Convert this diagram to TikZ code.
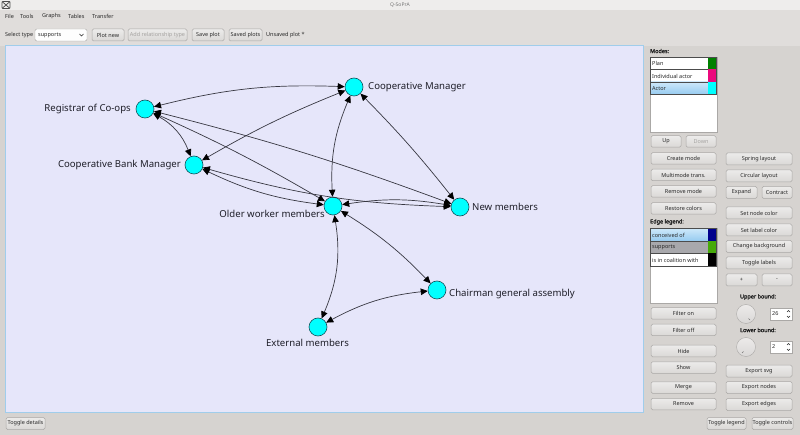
\documentclass[tikz,border=0pt]{standalone}
\usepackage{fontspec}
\setmainfont{Noto Sans}
\newfontfamily\gbfont{Noto Sans}[FakeBold=1.6]
\usetikzlibrary{arrows.meta}
\definecolor{winbg}{RGB}{214,211,208}
\definecolor{titlebg}{RGB}{238,237,236}
\definecolor{canvasbg}{RGB}{230,230,250}
\definecolor{canvasedge}{RGB}{160,205,235}
\definecolor{btnborder}{RGB}{170,168,166}
\definecolor{btntop}{RGB}{236,235,234}
\definecolor{btnbot}{RGB}{218,216,214}
\definecolor{guitext}{RGB}{40,40,40}
\definecolor{guidis}{RGB}{165,163,161}
\definecolor{edgecol}{RGB}{55,55,65}
\definecolor{nodeborder}{RGB}{20,80,90}
\definecolor{labelcol}{RGB}{30,30,40}
\definecolor{nodecyan}{RGB}{0,255,255}
\definecolor{selblue1}{RGB}{205,232,250}
\definecolor{selblue2}{RGB}{150,203,240}
\definecolor{selgray}{RGB}{168,168,172}
\definecolor{plangreen}{RGB}{0,128,0}
\definecolor{indpink}{RGB}{235,10,125}
\definecolor{navyc}{RGB}{0,0,140}
\definecolor{suppgreen}{RGB}{70,170,10}
\newcommand\guifont{\fontsize{5.5}{6.5}\selectfont}
\newcommand\gbtn[6]{\node[btn, minimum width=#4pt, minimum height=#5pt] (#1) at (#2,#3) {#6};}
\newcommand\gdbtn[6]{\node[btn, text=guidis, minimum width=#4pt, minimum height=#5pt] (#1) at (#2,#3) {#6};}
\begin{document}
\begin{tikzpicture}[x=1pt,y=-1pt,
  btn/.style={draw=btnborder, rounded corners=1.5pt, top color=btntop, bottom color=btnbot, font=\guifont, inner sep=0pt, text=guitext, line width=0.5pt},
  guitxt/.style={font=\guifont, text=guitext, inner sep=0pt},
  guibold/.style={font=\gbfont\guifont, text=guitext!80!black, inner sep=0pt},
  gnode/.style={circle, draw=nodeborder, fill=nodecyan, minimum size=18pt, inner sep=0pt, line width=0.6pt},
  glabel/.style={font=\fontsize{9.6}{11}\selectfont, text=labelcol, inner sep=0pt},
  edge/.style={draw=edgecol, line width=0.7pt, {Triangle[length=7pt,width=6.5pt,color=black]}-{Triangle[length=7pt,width=6.5pt,color=black]}},
  listrow/.style={draw=black!70, line width=0.4pt},
]
\useasboundingbox (0,0) rectangle (800,435);
% window
\fill[winbg] (0,0) rectangle (800,435);
\fill[titlebg] (0,0) rectangle (800,10);
\fill[winbg!60!titlebg] (0,10) rectangle (800,46);
% title bar
\draw[black!70, line width=0.7pt, rounded corners=1pt] (2,1.5) rectangle (10,8.5);
\draw[black!70, line width=0.7pt] (2,1.5) -- (10,8.5) (2,8.5) -- (10,1.5);
\node[font=\fontsize{5}{6}\selectfont, text=black!55, inner sep=0pt] (title) at (400,5) {Q-SoPrA};
% menu
\node[guitxt, anchor=west] (mfile) at (5,16) {File};
\node[guitxt, anchor=west] (mtools) at (20,16) {Tools};
\node[guitxt, anchor=west] (mgraphs) at (42,16) {Graphs};
\node[guitxt, anchor=west] (mtables) at (68,16) {Tables};
\node[guitxt, anchor=west] (mtransfer) at (92,16) {Transfer};
% toolbar
\node[guitxt, anchor=west] (seltype) at (5,35) {Select type};
\node[draw=btnborder, rounded corners=1.5pt, fill=white!95!btntop, minimum width=52pt, minimum height=12pt, inner sep=0pt] (combo) at (61,35) {};
\node[guitxt, anchor=west] (combotxt) at (38,35) {supports};
\draw[guitext, line width=0.5pt] (79.5,34) -- (81.5,36) -- (83.5,34);
\gbtn{plotnew}{108}{35}{32}{12}{Plot new}
\gdbtn{addrel}{157.5}{35}{59}{12}{Add relationship type}
\gbtn{saveplot}{208}{35}{32}{12}{Save plot}
\gbtn{savedplots}{245.5}{35}{33}{12}{Saved plots}
\node[guitxt, anchor=west] (unsaved) at (266,35) {Unsaved plot *};
% canvas
\draw[canvasedge, fill=canvasbg, line width=0.8pt] (5,45) rectangle (643,412);
% graph nodes
\node[gnode] (reg) at (145,109) {};
\node[gnode] (bm) at (194,165) {};
\node[gnode] (cm) at (354,87) {};
\node[gnode] (old) at (333,206) {};
\node[gnode] (new) at (460,207) {};
\node[gnode] (chair) at (437,290) {};
\node[gnode] (ext) at (318,327) {};
% edges
\draw[edge] (reg) to[bend left=8] (cm);
\draw[edge] (reg) to[bend left=20] (bm);
\draw[edge] (reg) to[bend left=3] (old);
\draw[edge] (reg) to[bend left=3] (new);
\draw[edge] (bm) to[bend left=4] (cm);
\draw[edge] (bm) to[bend right=9] (old);
\draw[edge] (bm) to[bend right=7] (new);
\draw[edge] (cm) to[bend right=13] (old);
\draw[edge] (cm) to[bend left=3] (new);
\draw[edge] (old) to[bend left=9] (new);
\draw[edge] (old) to[bend left=7] (chair);
\draw[edge] (old) to[bend left=16] (ext);
\draw[edge] (ext) to[bend left=11] (chair);
% labels
\node[glabel, anchor=east] (lreg) at (131,109) {Registrar of Co-ops};
\node[glabel, anchor=east] (lbm) at (181,165) {Cooperative Bank Manager};
\node[glabel, anchor=west] (lcm) at (368,87) {Cooperative Manager};
\node[glabel, anchor=west] (lnew) at (472,207) {New members};
\node[glabel, anchor=east] (lold) at (325,214) {Older worker members};
\node[glabel, anchor=west] (lchair) at (449,294) {Chairman general assembly};
\node[glabel] (lext) at (307.5,343) {External members};
% right panel: modes
\node[guibold, anchor=west] (modes) at (650,51) {Modes:};
\draw[draw=btnborder, fill=white] (650,57) rectangle (717,132);
\draw[listrow, fill=white] (650.5,57.5) rectangle (708,69.5);
\fill[plangreen] (708,57.5) rectangle (716.5,69.5);
\draw[listrow, top color=white, bottom color=white] (650.5,69.5) rectangle (708,82);
\fill[indpink] (708,69.5) rectangle (716.5,82);
\draw[listrow, top color=selblue1, bottom color=selblue2] (650.5,82) rectangle (708,94.5);
\fill[nodecyan] (708,82) rectangle (716.5,94.5);
\draw[black!70, line width=0.4pt] (650.5,57.5) rectangle (716.5,94.5);
\node[guitxt, anchor=west] (mplan) at (652,63.5) {Plan};
\node[guitxt, anchor=west] (mind) at (652,76) {Individual actor};
\node[guitxt, anchor=west] (mactor) at (652,88.5) {Actor};
\gbtn{up}{666}{141.5}{30}{11.5}{Up}
\gdbtn{down}{701}{141.5}{30}{11.5}{Down}
\gbtn{createmode}{683.5}{158.5}{65}{11.5}{Create mode}
\gbtn{multimode}{683.5}{175}{65}{11.5}{Multimode trans.}
\gbtn{removemode}{683.5}{191.5}{65}{11.5}{Remove mode}
\gbtn{restore}{683.5}{208.5}{65}{11.5}{Restore colors}
% edge legend
\node[guibold, anchor=west] (elegend) at (650,222) {Edge legend:};
\draw[draw=btnborder, fill=white] (650,228) rectangle (717,303);
\draw[listrow, top color=selblue1, bottom color=selblue2] (650.5,228.5) rectangle (708,241);
\fill[navyc] (708,228.5) rectangle (716.5,241);
\draw[listrow, fill=selgray] (650.5,241) rectangle (708,253.5);
\fill[suppgreen] (708,241) rectangle (716.5,253.5);
\draw[listrow, fill=white] (650.5,253.5) rectangle (708,266);
\fill[black] (708,253.5) rectangle (716.5,266);
\draw[black!70, line width=0.4pt] (650.5,228.5) rectangle (716.5,266);
\node[guitxt, anchor=west] (econc) at (652,235) {conceived of};
\node[guitxt, anchor=west] (esupp) at (652,247.5) {supports};
\node[guitxt, anchor=west] (ecoal) at (652,260) {is in coalition with};
\gbtn{filteron}{683.5}{313.5}{65}{11.5}{Filter on}
\gbtn{filteroff}{683.5}{330}{65}{11.5}{Filter off}
\gbtn{hide}{683.5}{351}{65}{11.5}{Hide}
\gbtn{show}{683.5}{367.5}{65}{11.5}{Show}
\gbtn{merge}{683.5}{387.5}{65}{11.5}{Merge}
\gbtn{remove}{683.5}{404}{65}{11.5}{Remove}
% right column
\gbtn{spring}{759}{159}{66}{12}{Spring layout}
\gbtn{circular}{759}{176}{66}{12}{Circular layout}
\gbtn{expand}{741.5}{192.5}{31}{12}{Expand}
\gbtn{contract}{777}{192.5}{30}{12}{Contract}
\gbtn{setnode}{759}{213}{66}{12}{Set node color}
\gbtn{setlabel}{759}{230}{66}{12}{Set label color}
\gbtn{changebg}{759}{246.5}{66}{12}{Change background}
\gbtn{togglelabels}{759}{263}{66}{12}{Toggle labels}
\gbtn{plus}{741.5}{280}{31}{12}{+}
\gbtn{minus}{777}{280}{30}{12}{-}
\node[guibold] (upper) at (758,297) {Upper bound:};
\node[circle, draw=btnborder, top color=btntop, bottom color=btnbot, minimum size=19pt, inner sep=0pt] (dial1) at (746,314) {};
\draw[black!55, line width=0.5pt] (748.5,318.5) -- (750,320);
\node[draw=btnborder, fill=white, minimum width=22pt, minimum height=12pt, inner sep=0pt] (spin1) at (781,314) {};
\node[guitxt, anchor=west] (v26) at (772,314) {26};
\draw[guitext, line width=0.4pt] (787,312) -- (788.5,310.5) -- (790,312) (787,316) -- (788.5,317.5) -- (790,316);
\node[guibold] (lower) at (758,330) {Lower bound:};
\node[circle, draw=btnborder, top color=btntop, bottom color=btnbot, minimum size=19pt, inner sep=0pt] (dial2) at (746,347) {};
\draw[black!55, line width=0.5pt] (743.5,351.5) -- (742,353);
\node[draw=btnborder, fill=white, minimum width=22pt, minimum height=12pt, inner sep=0pt] (spin2) at (781,347) {};
\node[guitxt, anchor=west] (v2) at (772,347) {2};
\draw[guitext, line width=0.4pt] (787,345) -- (788.5,343.5) -- (790,345) (787,349) -- (788.5,350.5) -- (790,349);
\gbtn{exportsvg}{759}{371}{66}{12}{Export svg}
\gbtn{exportnodes}{759}{387.5}{66}{12}{Export nodes}
\gbtn{exportedges}{759}{404.5}{66}{12}{Export edges}
% bottom
\gbtn{toggledetails}{25.5}{423.5}{39}{12}{Toggle details}
\gbtn{togglelegend}{726.5}{423.5}{39}{12}{Toggle legend}
\gbtn{togglecontrols}{772.5}{423.5}{41}{12}{Toggle controls}
\end{tikzpicture}
\end{document}
